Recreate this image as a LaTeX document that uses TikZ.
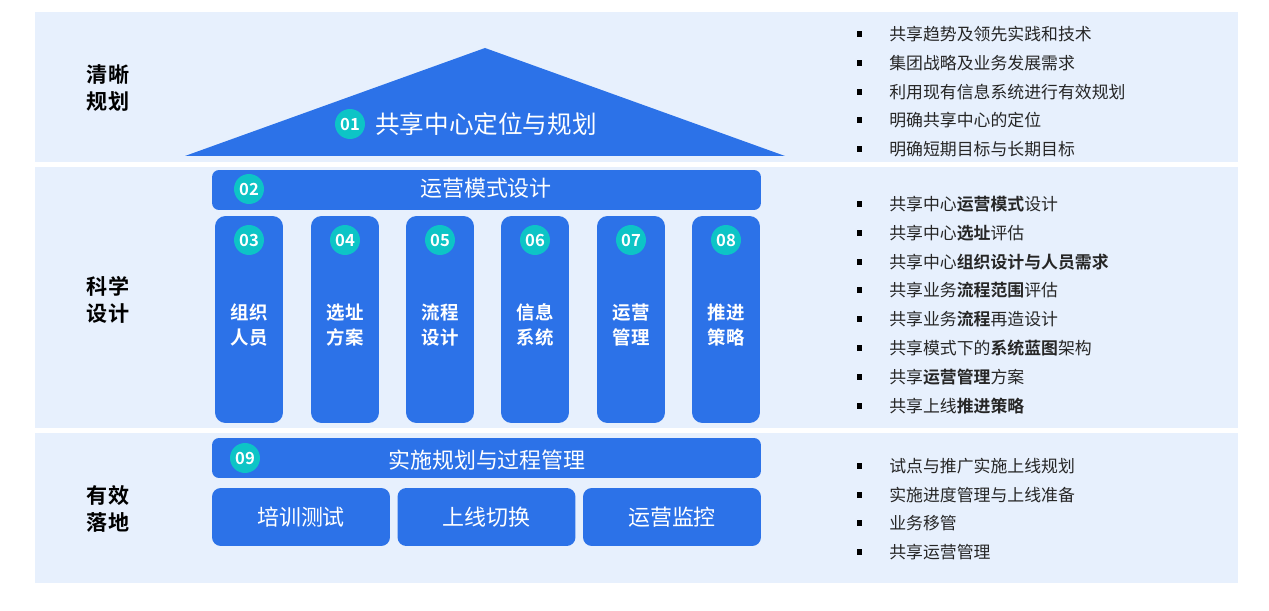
\documentclass[tikz,border=0pt]{standalone}
\usepackage{fontspec}
\setmainfont{Noto Sans CJK SC}[BoldFont={Noto Sans CJK SC Bold}]
\usetikzlibrary{positioning}

\definecolor{bandblue}{HTML}{E7F0FD}
\definecolor{mainblue}{HTML}{2C72E8}
\definecolor{numteal}{HTML}{0DC4C6}
\definecolor{txtgray}{HTML}{262626}

\tikzset{
    bar/.style={rectangle, fill=mainblue, rounded corners=4pt, minimum width=10.98cm, minimum height=0.8cm, inner sep=0pt},
    pillar/.style={rectangle, fill=mainblue, rounded corners=6pt, minimum width=1.36cm, minimum height=4.14cm, inner sep=0pt},
    basebox/.style={rectangle, fill=mainblue, rounded corners=5pt, minimum width=3.56cm, minimum height=1.16cm, inner sep=0pt,
        text=white, font=\fontsize{12.5}{14}\selectfont},
    num/.style={circle, fill=numteal, minimum size=0.6cm, inner sep=0pt, text=white, font=\fontsize{9.5}{10}\selectfont\bfseries},
    bartext/.style={text=white, font=\fontsize{12.5}{14}\selectfont},
    pilltext/.style={text=white, align=center, font=\fontsize{10.5}{14}\selectfont\bfseries},
    side/.style={align=center, text=black, font=\fontsize{12}{15}\selectfont\bfseries},
    item/.style={anchor=west, inner sep=0pt, text=txtgray, font=\fontsize{9.6}{11}\selectfont,
        label={[fill=black, minimum size=3pt, inner sep=0pt, label distance=0.53cm]left:{}}}
}

\begin{document}
\begin{tikzpicture}[x=0.02cm, y=-0.02cm]
    \useasboundingbox (0,0) rectangle (1269,611);

    % background bands
    \fill[bandblue] (35,12) rectangle (1238,162);
    \fill[bandblue] (35,167) rectangle (1238,428);
    \fill[bandblue] (35,433) rectangle (1238,583);

    % left labels
    \node[side] (plan) at (108,88) {清晰\\规划};
    \node[side] (design) at (108,300) {科学\\设计};
    \node[side] (land) at (108,509) {有效\\落地};

    % roof
    \fill[mainblue] (185,156) -- (485,48) -- (785,156) -- cycle;
    \node[num] (n01) at (350,124) {01};
    \node[text=white, font=\fontsize{14}{16}\selectfont] (roof) at (486,124) {共享中心定位与规划};

    % operating model bar
    \node[bar] (mode) at (486.5,190) {};
    \node[num] (n02) at (249,189) {02};
    \node[bartext] at (486,188) {运营模式设计};

    % pillars
    \node[pillar] (p1) at (249,319.5) {};
    \node[pillar] (p2) at (345,319.5) {};
    \node[pillar] (p3) at (440,319.5) {};
    \node[pillar] (p4) at (535,319.5) {};
    \node[pillar] (p5) at (631,319.5) {};
    \node[pillar] (p6) at (726,319.5) {};

    \node[num] (n03) at (249,240) {03};
    \node[num] (n04) at (345,240) {04};
    \node[num] (n05) at (440,240) {05};
    \node[num] (n06) at (535,240) {06};
    \node[num] (n07) at (631,240) {07};
    \node[num] (n08) at (726,240) {08};

    \node[pilltext] at (249,325) {组织\\人员};
    \node[pilltext] at (345,325) {选址\\方案};
    \node[pilltext] at (440,325) {流程\\设计};
    \node[pilltext] at (535,325) {信息\\系统};
    \node[pilltext] at (631,325) {运营\\管理};
    \node[pilltext] at (726,325) {推进\\策略};

    % implementation bar and base
    \node[bar] (impl) at (486.5,458) {};
    \node[num] (n09) at (245,458) {09};
    \node[bartext] at (487,460) {实施规划与过程管理};

    \node[basebox] (train) at (301,517) {培训测试};
    \node[basebox] (golive) at (486.5,517) {上线切换};
    \node[basebox] (monitor) at (672,517) {运营监控};

    % right lists
    \node[item] (a1) at (889,34) {共享趋势及领先实践和技术};
    \node[item] (a2) at (889,63) {集团战略及业务发展需求};
    \node[item] (a3) at (889,92) {利用现有信息系统进行有效规划};
    \node[item] (a4) at (889,120) {明确共享中心的定位};
    \node[item] (a5) at (889,149) {明确短期目标与长期目标};

    \node[item] (b1) at (889,204) {共享中心\textbf{运营模式}设计};
    \node[item] (b2) at (889,233) {共享中心\textbf{选址}评估};
    \node[item] (b3) at (889,262) {共享中心\textbf{组织设计与人员需求}};
    \node[item] (b4) at (889,290) {共享业务\textbf{流程范围}评估};
    \node[item] (b5) at (889,319) {共享业务\textbf{流程}再造设计};
    \node[item] (b6) at (889,348) {共享模式下的\textbf{系统蓝图}架构};
    \node[item] (b7) at (889,377) {共享\textbf{运营管理}方案};
    \node[item] (b8) at (889,406) {共享上线\textbf{推进策略}};

    \node[item] (c1) at (889,466) {试点与推广实施上线规划};
    \node[item] (c2) at (889,495) {实施进度管理与上线准备};
    \node[item] (c3) at (889,523) {业务移管};
    \node[item] (c4) at (889,552) {共享运营管理};
\end{tikzpicture}
\end{document}
